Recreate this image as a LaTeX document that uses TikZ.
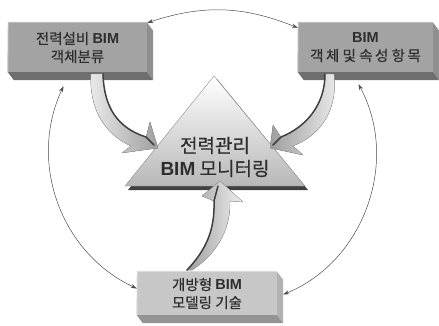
\documentclass[tikz,border=0pt]{standalone}
\usepackage{fontspec}
\setmainfont{Noto Sans CJK KR}[FakeBold=0.4]
\newfontfamily\bimfont{Liberation Sans}
\usetikzlibrary{arrows.meta,calc}

\newcommand{\bim}{{\bimfont\bfseries BIM}}
\newcommand{\ls}{\kern2.5pt}

\begin{document}
\begin{tikzpicture}[x=1pt,y=-1pt,
    facebox/.style={inner sep=0pt,align=center,text=black!82,
        font=\fontsize{14.5}{18}\selectfont},
    ring/.style={black!70,line width=0.5pt,
        {Stealth[length=6pt,width=4pt]}-{Stealth[length=6pt,width=4pt]}},
    bigarrow/.style={draw=black!40,line width=0.3pt},
    darkedge/.style={black!75,line width=1.5pt,line cap=round}]

    \useasboundingbox (0,0) rectangle (439,325);

    % The three boxes, only their front faces are nodes
    \node[facebox,fill=black!36,minimum width=139pt,minimum height=49pt]
        (equip) at (77.5,47.5) {전력설비 \bim\\객체분류};
    \node[facebox,fill=black!36,minimum width=135pt,minimum height=49pt]
        (attr) at (365.5,47.5) {\bim\\객\ls 체 및 속\ls 성 항\ls 목};
    \node[facebox,fill=black!22,minimum width=140pt,minimum height=43pt]
        (model) at (207,293.5) {개방형 \bim\\모델링 기술};

    % Draw the side, the bottom and the light rim of every box
    \foreach \b/\s/\u/\r in {equip/44/57/26, attr/44/57/26, model/30/42/14} {
        \fill[black!\s] (\b.north east) -- ++(6,8)
            -- ($(\b.south east)+(6,8)$) -- (\b.south east) -- cycle;
        \fill[black!\u] (\b.south west) -- (\b.south east)
            -- ($(\b.south east)+(6,8)$) -- ($(\b.south west)+(6,8)$) -- cycle;
        \draw[black!\r,line width=1pt] ([yshift=-0.5pt]\b.south west)
            -- ([xshift=0.5pt,yshift=0.5pt]\b.north west) -- ([yshift=0.5pt]\b.north east);
    }

    % The triangle with its shadow
    \fill[black!75] (217,79) -- (308,190) -- (128,190) -- cycle;
    \draw[black!45,line width=0.4pt,top color=white,bottom color=black!28]
        (214,76) -- (305,186) -- (125,186) -- cycle;
    \node[text=black!82,align=center,font=\fontsize{19}{23}\selectfont]
        (hub) at (215,157) {전력관리\\\bim{} 모니터링};

    % The thick arrow from the left box into the triangle
    \fill[bigarrow,left color=black!8,right color=black!38]
        (91,74) -- (103,74) .. controls (104,108) and (118,128) .. (146,137)
        -- (150,122) -- (158,148) -- (122,153) -- (131,146)
        .. controls (104,134) and (89,108) .. (91,74) -- cycle;
    \draw[darkedge] (103,74) .. controls (104,108) and (118,128) .. (146,137)
        -- (154,145);

    % The thick arrow from the right box into the triangle
    \fill[bigarrow,left color=black!38,right color=black!8]
        (334,74) .. controls (338,110) and (321,135) .. (293,146)
        -- (303,155) -- (270,148) -- (273,125) -- (281,137)
        .. controls (306,127) and (325,105) .. (325,74) -- cycle;
    \draw[darkedge] (325,74) .. controls (325,105) and (306,127) .. (281,137)
        -- (273,145);

    % The thick arrow from the bottom box up into the triangle
    \fill[bigarrow,left color=black!38,right color=black!6]
        (187,270) .. controls (206,250) and (215,230) .. (214,201)
        -- (202,196) -- (220,181) -- (243,202) -- (230,201)
        .. controls (231,232) and (214,256) .. (192,270) -- cycle;
    \draw[darkedge] (187,270) .. controls (206,250) and (215,230) .. (214,201)
        -- (218,186);

    % The thin ring of arrows between the boxes
    \draw[ring] (equip.north east) to[bend left=20] ([yshift=-5pt]attr.north west);
    \draw[ring] ([xshift=-14pt,yshift=-14pt]equip.south) to[bend right=45]
        ([yshift=5pt]model.west);
    \draw[ring] ([xshift=-7pt,yshift=-12pt]attr.south) to[bend left=48]
        ([xshift=6pt,yshift=-1pt]model.east);
\end{tikzpicture}
\end{document}
